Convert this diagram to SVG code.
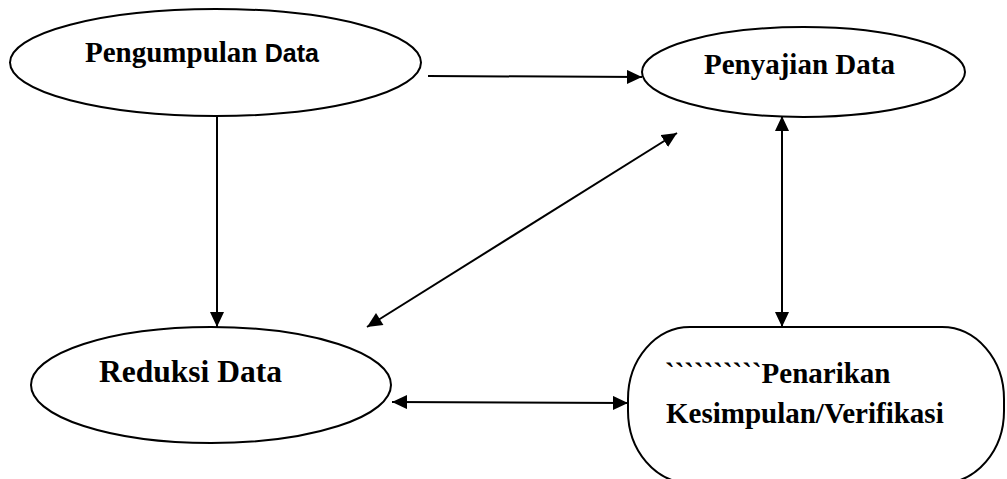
<svg xmlns="http://www.w3.org/2000/svg" width="1007" height="479" viewBox="0 0 1007 479">
<style>
.shape{fill:#fff;stroke:#000;stroke-width:2}
.lbl{font-family:"Liberation Serif","Times New Roman",serif;font-weight:bold;fill:#000}
.sans{font-family:"Liberation Sans",Arial,sans-serif;font-weight:bold}
.conn{stroke:#000;stroke-width:2;fill:none}
</style>
<defs>
<marker id="arrEnd" markerUnits="userSpaceOnUse" markerWidth="16" markerHeight="14" refX="15" refY="7" orient="auto">
<path d="M0,0 L15,7 L0,14 Z" fill="#000"/>
</marker>
<marker id="arrStart" markerUnits="userSpaceOnUse" markerWidth="16" markerHeight="14" refX="0" refY="7" orient="auto">
<path d="M15,0 L0,7 L15,14 Z" fill="#000"/>
</marker>
</defs>
<g id="connectors">
<line class="conn" x1="428" y1="76" x2="642" y2="77" marker-end="url(#arrEnd)"/>
<line class="conn" x1="217" y1="116" x2="217" y2="327" marker-end="url(#arrEnd)"/>
<line class="conn" x1="367" y1="327" x2="677" y2="133" marker-start="url(#arrStart)" marker-end="url(#arrEnd)"/>
<line class="conn" x1="782" y1="116" x2="782" y2="327" marker-start="url(#arrStart)" marker-end="url(#arrEnd)"/>
<line class="conn" x1="392" y1="402" x2="628" y2="403" marker-start="url(#arrStart)" marker-end="url(#arrEnd)"/>
</g>
<g id="pengumpulan">
<ellipse class="shape" cx="215.5" cy="62.5" rx="205.5" ry="53.5"/>
<text class="lbl" x="85" y="62" font-size="29">Pengumpulan <tspan class="sans" font-size="25">Data</tspan></text>
</g>
<g id="penyajian">
<ellipse class="shape" cx="803.5" cy="72" rx="161.5" ry="45"/>
<text class="lbl" x="704" y="74" font-size="29">Penyajian Data</text>
</g>
<g id="reduksi">
<ellipse class="shape" cx="211" cy="385" rx="180" ry="58"/>
<text class="lbl" x="99" y="382" font-size="31.5">Reduksi Data</text>
</g>
<g id="penarikan">
<rect class="shape" x="628" y="327" width="376" height="156" rx="62" ry="72"/>
<text class="lbl" x="665" y="383" font-size="29">``````````Penarikan</text>
<text class="lbl" x="666" y="423" font-size="29">Kesimpulan/Verifikasi</text>
</g>
</svg>
